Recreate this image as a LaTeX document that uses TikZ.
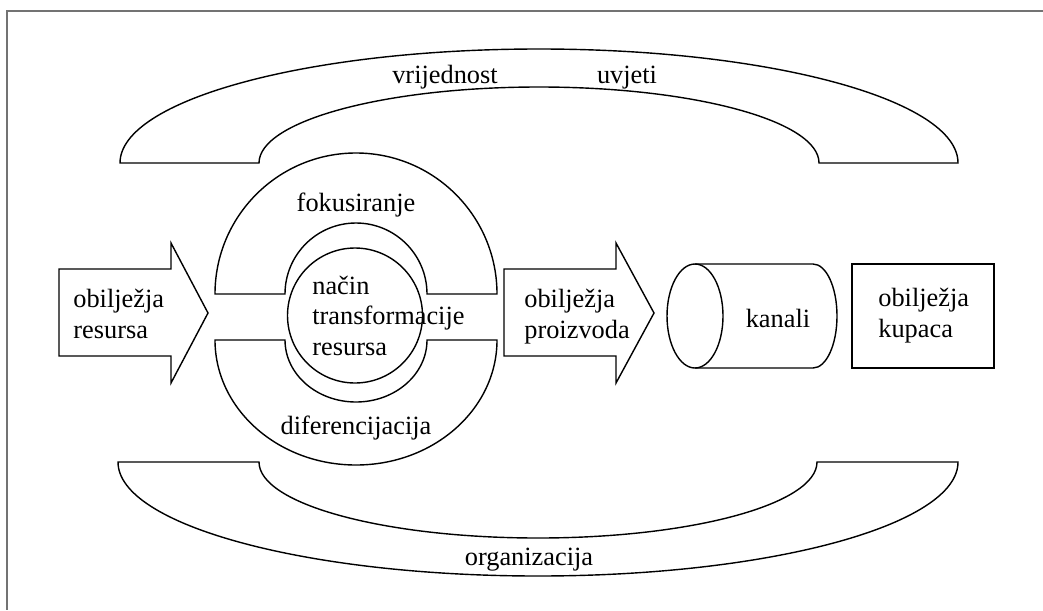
\documentclass[tikz,border=0pt]{standalone}
\usepackage{fontspec}
\setmainfont{Liberation Serif}
\begin{document}
\begin{tikzpicture}[x=0.02cm, y=0.02cm,
        outline/.style={draw, line width=0.8pt},
        lbl/.style={inner sep=0pt, font=\fontsize{15}{17.3}\selectfont},
        multi/.style={lbl, align=left, anchor=base west}]
    \useasboundingbox (0,0) rectangle (1043,610);
    \draw[line width=1.1pt, black!55] (1043,599) -- (7,599) -- (7,0);

    \draw[outline] (120,447) arc[start angle=180, end angle=0, x radius=419, y radius=114]
        -- (819,447) arc[start angle=0, end angle=180, x radius=280, y radius=76] -- cycle;
    \draw[outline] (118,148) arc[start angle=180, end angle=360, x radius=420, y radius=114]
        -- (817,148) arc[start angle=360, end angle=180, x radius=279, y radius=76] -- cycle;

    \draw[outline] (215,316) arc[start angle=180, end angle=0, radius=141]
        -- (427,316) arc[start angle=0, end angle=180, radius=71] -- cycle;
    \draw[outline] (215,270) arc[start angle=180, end angle=360, x radius=141, y radius=125]
        -- (427,270) arc[start angle=360, end angle=180, x radius=71, y radius=62] -- cycle;
    \draw[outline] (355,294.5) circle[radius=67.5];

    \draw[outline] (59,341) -- (171,341) -- (171,367) -- (208,297) -- (171,227) -- (171,254) -- (59,254) -- cycle;
    \draw[outline] (504,341) -- (616,341) -- (616,367) -- (654,297) -- (616,227) -- (616,254) -- (504,254) -- cycle;

    \draw[outline] (695,294) ellipse[x radius=28, y radius=52];
    \draw[outline] (695,346) -- (813,346) arc[start angle=90, end angle=-90, x radius=24, y radius=52] -- (695,242);
    \draw[outline] (852,242) rectangle (994,346);

    \node[lbl, anchor=base] (vrij) at (445,527) {vrijednost};
    \node[lbl, anchor=base] (uvj) at (627,527) {uvjeti};
    \node[lbl, anchor=base] (fok) at (356,399) {fokusiranje};
    \node[multi] (nacin) at (312,255) {način\\transformacije\\resursa};
    \node[lbl, anchor=base] (dif) at (356,176) {diferencijacija};
    \node[lbl, anchor=base] (org) at (529,45) {organizacija};
    \node[multi] (res) at (73,272) {obilježja\\resursa};
    \node[multi] (proiz) at (524,272) {obilježja\\proizvoda};
    \node[lbl, anchor=base] (kan) at (778,283) {kanali};
    \node[multi] (kup) at (878,273) {obilježja\\kupaca};
\end{tikzpicture}
\end{document}
